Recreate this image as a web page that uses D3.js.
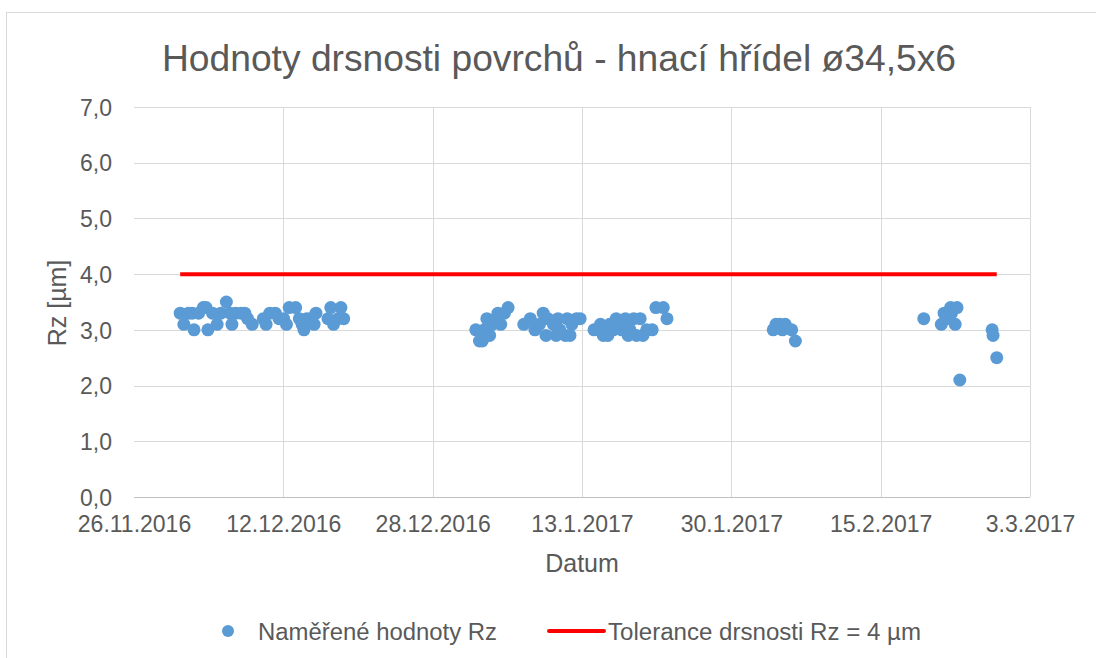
<!DOCTYPE html>
<html><head><meta charset="utf-8">
<script src="https://cdn.jsdelivr.net/npm/d3@7"></script>
<style>body{margin:0;background:#fff;}svg{display:block;font-family:"Liberation Sans",Arial,sans-serif;}</style>
</head><body>
<svg id="c" width="1096" height="658"></svg>
<script>
// Day offsets from 26.11.2016 and measured Rz values
const measDays = [5.0,5.4,5.9,6.3,6.5,7.0,7.5,7.8,8.0,8.5,9.0,9.4,10.0,10.4,10.6,11.0,11.6,12.0,12.3,12.8,14.0,14.3,14.7,15.3,15.7,16.2,16.5,16.8,17.5,17.9,18.2,18.4,18.7,19.1,19.5,19.7,21.0,21.3,21.6,22.1,22.4,22.7,
  37.0,37.4,37.7,37.9,38.2,38.5,38.8,39.2,39.4,39.7,40.1,40.5,42.2,42.9,43.4,43.9,44.3,44.6,44.8,45.4,45.7,45.9,46.1,46.7,46.9,47.2,47.4,47.9,48.3,49.8,50.5,50.8,51.0,51.3,51.5,51.9,52.2,52.5,52.8,53.2,53.5,53.7,54.1,54.4,54.8,55.1,55.5,56.1,56.5,57.3,57.7,
  69.2,69.5,69.9,70.2,70.5,71.2,71.6,
  85.5,87.4,87.7,88.0,88.4,88.5,88.9,89.1,89.4,92.9,93.0,93.4];
const measRz = [3.3,3.1,3.3,3.3,3.0,3.3,3.4,3.4,3.0,3.3,3.1,3.3,3.5,3.3,3.1,3.3,3.3,3.3,3.2,3.1,3.2,3.1,3.3,3.3,3.2,3.2,3.1,3.4,3.4,3.2,3.1,3.0,3.2,3.2,3.1,3.3,3.2,3.4,3.1,3.2,3.4,3.2,
  3.0,2.8,2.8,3.0,3.2,2.9,3.1,3.2,3.3,3.1,3.3,3.4,3.1,3.2,3.0,3.1,3.3,2.9,3.2,3.1,2.9,3.2,3.0,2.9,3.2,2.9,3.1,3.2,3.2,3.0,3.1,2.9,3.0,2.9,3.1,3.0,3.2,3.1,3.0,3.2,2.9,3.0,3.2,2.9,3.2,2.9,3.0,3.0,3.4,3.4,3.2,
  3.0,3.1,3.1,3.0,3.1,3.0,2.8,
  3.2,3.1,3.3,3.2,3.4,3.3,3.1,3.4,2.1,3.0,2.9,2.5];
const tolerance = 4;
const xTickLabels = ["26.11.2016","12.12.2016","28.12.2016","13.1.2017","30.1.2017","15.2.2017","3.3.2017"];
const yTicks = [0,1,2,3,4,5,6,7];
const xSpanDays = 97;

const svg = d3.select("#c");
const L=134, R=1030, T=107, B=497;
const x = d3.scaleLinear().domain([0,xSpanDays]).range([L,R]);
const y = d3.scaleLinear().domain([0,7]).range([B,T]);
const gray="#595959";
const FF="Liberation Sans, Arial, sans-serif";

// chart border
svg.append("rect").attr("x",6.5).attr("y",12.5).attr("width",1100).attr("height",700)
  .attr("fill","none").attr("stroke","#d9d9d9").attr("stroke-width",1);

// title
svg.append("text").attr("x",559).attr("y",71).attr("text-anchor","middle")
  .attr("font-size",36).attr("fill",gray).attr("textLength",794).attr("lengthAdjust","spacingAndGlyphs")
  .text("Hodnoty drsnosti povrchů - hnací hřídel ø34,5x6");

const xTickVals = xTickLabels.map((d,i)=>i*xSpanDays/6);

// grid
const g = svg.append("g");
g.selectAll(".hg").data(yTicks.slice(1)).join("line")
  .attr("x1",L).attr("x2",R).attr("y1",d=>Math.round(y(d))+0.5).attr("y2",d=>Math.round(y(d))+0.5)
  .attr("stroke","#d9d9d9").attr("stroke-width",1);
g.selectAll(".vg").data(xTickVals.slice(1)).join("line")
  .attr("x1",d=>Math.round(x(d))+0.5).attr("x2",d=>Math.round(x(d))+0.5).attr("y1",T).attr("y2",B)
  .attr("stroke","#d9d9d9").attr("stroke-width",1);
// x axis line
g.append("line").attr("x1",L).attr("x2",R).attr("y1",B+0.5).attr("y2",B+0.5).attr("stroke","#bfbfbf");

// y labels
const yAxis = d3.axisLeft(y).tickValues(yTicks).tickSize(0).tickPadding(22)
  .tickFormat(d=>d3.format(".1f")(d).replace(".",","));
const ya = svg.append("g").attr("transform",`translate(${L},0)`).call(yAxis);
ya.select(".domain").remove();
ya.selectAll("text").attr("font-size",23).attr("fill",gray).attr("font-family",FF).attr("dy","0.36em");

// x labels
const xAxis = d3.axisBottom(x).tickValues(xTickVals).tickSize(0).tickPadding(0)
  .tickFormat((d,i)=>xTickLabels[i]);
const xa = svg.append("g").attr("transform",`translate(0,${B})`).call(xAxis);
xa.select(".domain").remove();
xa.selectAll("text").attr("font-size",23).attr("fill",gray).attr("font-family",FF).attr("y",35).attr("dy",0);

// axis titles
svg.append("text").attr("x",582).attr("y",572).attr("text-anchor","middle").attr("font-size",25).attr("fill",gray).text("Datum");
svg.append("text").attr("transform","translate(66,303) rotate(-90)").attr("text-anchor","middle").attr("font-size",25).attr("fill",gray).text("Rz [µm]");

// tolerance line
const ext = d3.extent(measDays);
svg.append("line").attr("x1",x(ext[0])).attr("x2",x(ext[1])).attr("y1",y(tolerance)).attr("y2",y(tolerance))
  .attr("stroke","#ff0000").attr("stroke-width",4);

// points
svg.append("g").selectAll("circle").data(measDays.map((d,i)=>[d,measRz[i]])).join("circle")
  .attr("cx",d=>x(d[0])).attr("cy",d=>y(d[1])).attr("r",6.5).attr("fill","#5b9bd5");

// legend
const lg = svg.append("g");
lg.append("circle").attr("cx",228).attr("cy",631).attr("r",6).attr("fill","#5b9bd5");
lg.append("text").attr("x",258).attr("y",640).attr("font-size",23).attr("fill",gray)
  .attr("textLength",239).attr("lengthAdjust","spacingAndGlyphs").text("Naměřené hodnoty Rz");
lg.append("line").attr("x1",549).attr("x2",604).attr("y1",631).attr("y2",631).attr("stroke","#ff0000").attr("stroke-width",4).attr("stroke-linecap","round");
lg.append("text").attr("x",608).attr("y",640).attr("font-size",23).attr("fill",gray)
  .attr("textLength",313).attr("lengthAdjust","spacingAndGlyphs").text("Tolerance drsnosti Rz = 4 µm");
</script>
</body></html>
